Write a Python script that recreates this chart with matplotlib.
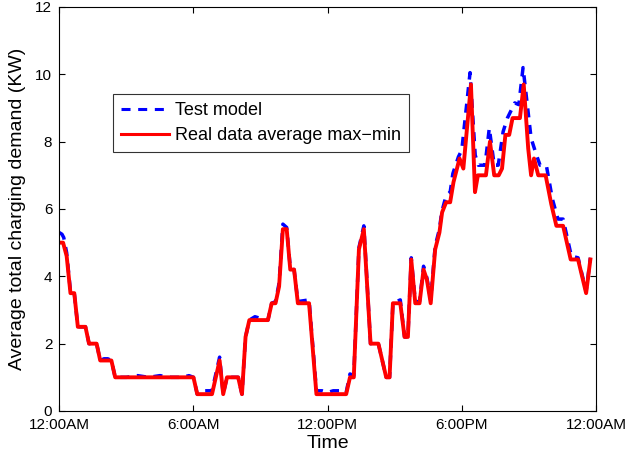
# charging_demand_profile.py
# Daily EV charging demand: test model vs. real data (average of max-min)

import matplotlib
matplotlib.use("Agg")
import matplotlib.pyplot as plt

plt.rcParams["font.family"] = ["Liberation Sans", "DejaVu Sans"]
plt.rcParams["lines.scale_dashes"] = False

# time of day in hours, demand in kW
real_hours = [0.0, 0.17, 0.33, 0.5, 0.67, 0.83, 1.17, 1.33, 1.67, 1.83, 2.33, 2.5,
              6.0, 6.17, 6.83, 7.17, 7.33, 7.5, 8.0, 8.17, 8.33, 8.5, 9.33, 9.5,
              9.67, 9.83, 10.0, 10.17, 10.33, 10.5, 10.67, 11.17, 11.5, 12.83, 13.0,
              13.17, 13.4, 13.62, 13.92, 14.27, 14.62, 14.77, 14.92, 15.25, 15.44,
              15.59, 15.74, 15.92, 16.11, 16.29, 16.44, 16.61, 16.81, 17.0, 17.12,
              17.3, 17.48, 17.63, 17.9, 18.07, 18.41, 18.59, 18.72, 19.08, 19.26,
              19.45, 19.65, 19.8, 19.95, 20.12, 20.27, 20.6, 20.77, 20.97, 21.1,
              21.23, 21.42, 21.75, 22.0, 22.23, 22.53, 22.87, 23.2, 23.56, 23.75]
real_kw = [5.0, 5.0, 4.6, 3.5, 3.5, 2.5, 2.5, 2.0, 2.0, 1.5, 1.5, 1.0,
           1.0, 0.5, 0.5, 1.5, 0.5, 1.0, 1.0, 0.5, 2.2, 2.7, 2.7, 3.2,
           3.2, 3.7, 5.4, 5.4, 4.2, 4.2, 3.2, 3.2, 0.5, 0.5, 1.0,
           1.0, 4.8, 5.4, 2.0, 2.0, 1.0, 1.0, 3.2, 3.2, 2.2,
           2.2, 4.5, 3.2, 3.2, 4.2, 3.9, 3.2, 4.8, 5.3, 5.9,
           6.2, 6.2, 6.8, 7.5, 7.2, 9.7, 6.5, 7.0, 7.0, 8.0,
           7.0, 7.0, 7.2, 8.2, 8.2, 8.7, 8.7, 9.7, 7.8, 7.0,
           7.5, 7.0, 7.0, 6.15, 5.5, 5.5, 4.5, 4.5, 3.5, 4.5]

model_hours = [0.0, 0.12, 0.2, 0.33, 0.5, 0.67, 0.83, 1.17, 1.33, 1.67, 1.83, 2.0,
               2.17, 2.33, 2.5, 3.0, 3.5, 4.0, 4.5, 5.0, 5.5, 5.8, 6.0, 6.17,
               6.5, 6.83, 7.17, 7.33, 7.5, 8.0, 8.17, 8.33, 8.5, 8.75, 9.0, 9.33,
               9.5, 9.67, 9.83, 10.0, 10.17, 10.33, 10.5, 10.67, 11.17, 11.5, 11.75,
               12.0, 12.25, 12.6, 12.83, 13.0, 13.17, 13.4, 13.62, 13.92, 14.27,
               14.62, 14.77, 14.92, 15.25, 15.44, 15.59, 15.74, 15.92, 16.11, 16.29,
               16.44, 16.61, 16.81, 17.0, 17.1, 17.3, 17.48, 17.6, 17.85, 18.0,
               18.37, 18.6, 18.74, 19.04, 19.23, 19.45, 19.63, 19.85, 20.04, 20.37,
               20.55, 20.74, 21.1, 21.34, 21.5, 21.78, 22.05, 22.3, 22.53, 22.9,
               23.2, 23.56, 23.75]
model_kw = [5.3, 5.25, 5.15, 4.7, 3.55, 3.5, 2.5, 2.5, 2.0, 2.0, 1.5, 1.55,
            1.55, 1.5, 1.0, 1.0, 1.05, 1.0, 1.05, 1.0, 1.0, 1.05, 1.0, 0.5,
            0.6, 0.6, 1.6, 0.5, 1.0, 1.0, 0.5, 2.2, 2.7, 2.8, 2.75, 2.7,
            3.2, 3.25, 3.8, 5.55, 5.45, 4.25, 4.2, 3.25, 3.3, 0.6, 0.6,
            0.55, 0.6, 0.6, 0.55, 1.1, 1.05, 4.85, 5.5, 2.0, 2.0,
            1.0, 1.0, 3.2, 3.3, 2.2, 2.2, 4.55, 3.25, 3.25, 4.3,
            3.95, 3.3, 4.9, 5.4, 5.9, 6.4, 6.5, 7.05, 7.55, 7.75,
            10.05, 7.6, 7.3, 7.3, 8.4, 7.3, 7.3, 8.3, 8.7, 9.15,
            9.1, 10.2, 8.1, 7.6, 7.3, 7.3, 6.3, 5.7, 5.7, 4.6,
            4.55, 3.55, 4.55]

tick_hours = [0, 6, 12, 18, 24]
tick_labels = ["12:00AM", "6:00AM", "12:00PM", "6:00PM", "12:00AM"]

fig = plt.figure(figsize=(6.26, 4.59), dpi=100)
ax = fig.add_axes([0.0947, 0.1046, 0.8573, 0.8802])

ax.plot(model_hours, model_kw, color="blue", linewidth=2.5,
        dashes=(6.5, 5.5), label="Test model")
ax.plot(real_hours, real_kw, color="red", linewidth=2.8,
        label="Real data average max\u2212min")

ax.set_xlim(0, 24)
ax.set_ylim(0, 12)
ax.set_xticks(tick_hours)
ax.set_xticklabels(tick_labels)
ax.set_yticks(range(0, 13, 2))
ax.tick_params(direction="in", top=True, right=True, length=4, width=0.8,
               labelsize=11, pad=5)
for s in ax.spines.values():
    s.set_linewidth(0.8)

ax.set_xlabel("Time", fontsize=14, labelpad=2)
ax.set_ylabel("Average total charging demand (KW)", fontsize=14, labelpad=7)

leg = ax.legend(loc="upper left", bbox_to_anchor=(0.0995, 0.784),
                borderaxespad=0, fontsize=13, fancybox=False,
                handlelength=2.65, handletextpad=0.37, borderpad=0.45,
                labelspacing=0.42)
leg.get_frame().set_edgecolor("black")
leg.get_frame().set_linewidth(0.8)
for h in leg.get_lines():
    h.set_linewidth(2.2)

fig.savefig("out.png", dpi=100)
